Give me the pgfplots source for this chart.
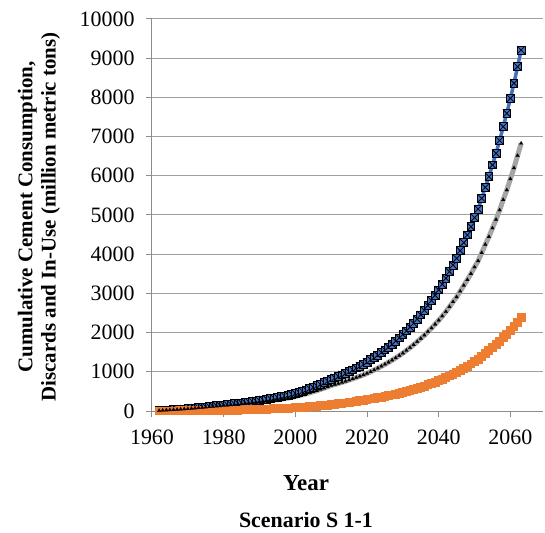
\documentclass[border=0pt]{standalone}
\usepackage{fontspec}
\setmainfont{Liberation Serif}
\usepackage{pgfplots}
\pgfplotsset{compat=1.18}
\usepackage{pgfplotstable}
\definecolor{xlblue}{HTML}{4472C4}
\definecolor{xlorange}{HTML}{ED7D31}
\definecolor{xlgray}{HTML}{A5A5A5}
\definecolor{gridc}{HTML}{A0A0A0}
\definecolor{axc}{HTML}{8C8C8C}
\pgfdeclareplotmark{boxx}{%
  \pgfpathrectangle{\pgfpoint{-\pgfplotmarksize}{-\pgfplotmarksize}}{\pgfpoint{2\pgfplotmarksize}{2\pgfplotmarksize}}%
  \pgfusepathqfillstroke
  \pgfpathmoveto{\pgfpoint{-\pgfplotmarksize}{-\pgfplotmarksize}}%
  \pgfpathlineto{\pgfpoint{\pgfplotmarksize}{\pgfplotmarksize}}%
  \pgfpathmoveto{\pgfpoint{-\pgfplotmarksize}{\pgfplotmarksize}}%
  \pgfpathlineto{\pgfpoint{\pgfplotmarksize}{-\pgfplotmarksize}}%
  \pgfusepathqstroke}
\pgfplotstableread{
year B I D
1962 10 10 0
1963 16 16 0
1964 22 22 0
1965 28 27 1
1966 34 33 1
1967 40 39 1
1968 46 44 2
1969 52 50 2
1970 58 55 3
1971 67 64 3
1972 77 73 4
1973 86 81 5
1974 96 90 6
1975 105 98 7
1976 115 107 8
1977 124 115 9
1978 134 124 10
1979 143 131 12
1980 153 139 14
1981 163 147 16
1982 174 156 18
1983 185 165 20
1984 196 174 22
1985 207 182 25
1986 219 191 28
1987 231 200 31
1988 244 210 34
1989 257 220 37
1990 270 230 40
1991 285 242 43
1992 300 253 47
1993 316 265 51
1994 332 277 55
1995 349 290 59
1996 366 303 63
1997 384 317 67
1998 403 331 72
1999 426 350 76
2000 450 369 81
2001 478 391 87
2002 507 414 93
2003 538 438 100
2004 571 464 107
2005 606 491 115
2006 643 520 123
2007 682 551 131
2008 723 583 140
2009 766 616 150
2010 810 650 160
2011 846 676 170
2012 883 702 181
2013 922 730 192
2014 963 759 204
2015 1006 790 216
2016 1050 821 229
2017 1097 854 243
2018 1145 887 258
2019 1196 922 274
2020 1250 960 290
2021 1307 1002 305
2022 1366 1046 320
2023 1428 1092 336
2024 1493 1140 353
2025 1561 1191 370
2026 1632 1243 389
2027 1706 1298 408
2028 1784 1355 429
2029 1865 1415 450
2030 1950 1477 473
2031 2042 1545 497
2032 2138 1616 522
2033 2238 1690 548
2034 2343 1768 575
2035 2454 1850 604
2036 2569 1934 635
2037 2690 2024 666
2038 2816 2116 700
2039 2949 2214 735
2040 3087 2315 772
2041 3232 2421 811
2042 3385 2534 851
2043 3554 2660 894
2044 3724 2785 939
2045 3895 2909 986
2046 4089 3053 1036
2047 4293 3205 1088
2048 4490 3348 1142
2049 4702 3502 1200
2050 4931 3671 1260
2051 5153 3830 1323
2052 5426 4036 1390
2053 5707 4248 1459
2054 5977 4444 1533
2055 6276 4666 1610
2056 6574 4884 1690
2057 6900 5125 1775
2058 7253 5389 1864
2059 7594 5636 1958
2060 7977 5921 2056
2061 8360 6201 2159
2062 8783 6515 2268
2063 9209 6828 2381
}\datatable
\begin{document}
\begin{tikzpicture}
\begin{axis}[
  at={(0,0)}, anchor=south west,
  scale only axis,
  width=391bp, height=392bp,
  xmin=1960, xmax=2069.1,
  ymin=0, ymax=10000,
  xtick={1960,1980,2000,2020,2040,2060},
  ytick={0,1000,...,10000},
  scaled y ticks=false, scaled x ticks=false,
  axis x line=bottom, axis y line=left,
  axis line style={-, draw=axc, line width=1bp},
  tick align=outside,
  major tick length=6bp,
  tick style={draw=axc, line width=1bp},
  ymajorgrids,
  major grid style={draw=gridc, line width=1bp},
  /pgf/number format/assume math mode=true,
  /pgf/number format/1000 sep={},
  tick label style={font=\fontsize{22}{25}\selectfont},
  yticklabel style={xshift=-8bp},
  xticklabel style={yshift=-9bp},
  clip=false,
]
\addplot[xlblue, line width=3.5bp, mark=boxx, mark size=3.9bp,
  mark options={fill=xlblue, draw=black, line width=0.8bp, solid}]
  table[x=year, y=B] {\datatable};
\addplot[xlorange, line width=3.5bp, mark=square*, mark size=2.7bp,
  mark options={fill=xlorange, draw=xlorange, solid}]
  table[x=year, y=D] {\datatable};
\addplot[xlgray, line width=5bp, mark=triangle*, mark size=2.1bp,
  mark options={fill=black, draw=black, line width=0.2bp, solid}]
  table[x=year, y=I] {\datatable};
\end{axis}
\node[rotate=90, align=center, font=\bfseries\fontsize{21}{23.5}\selectfont] at (-113bp,194bp)
  {Cumulative Cement Consumption,\\Discards and In-Use (million metric tons)};
\node[font=\bfseries\fontsize{23}{27}\selectfont] at (154bp,-72bp) {Year};
\node[font=\bfseries\fontsize{22}{26}\selectfont] at (154bp,-109bp) {Scenario S 1-1};
\pgfresetboundingbox
\path[use as bounding box] (-152bp,-122bp) rectangle (393bp,411bp);
\end{tikzpicture}
\end{document}
